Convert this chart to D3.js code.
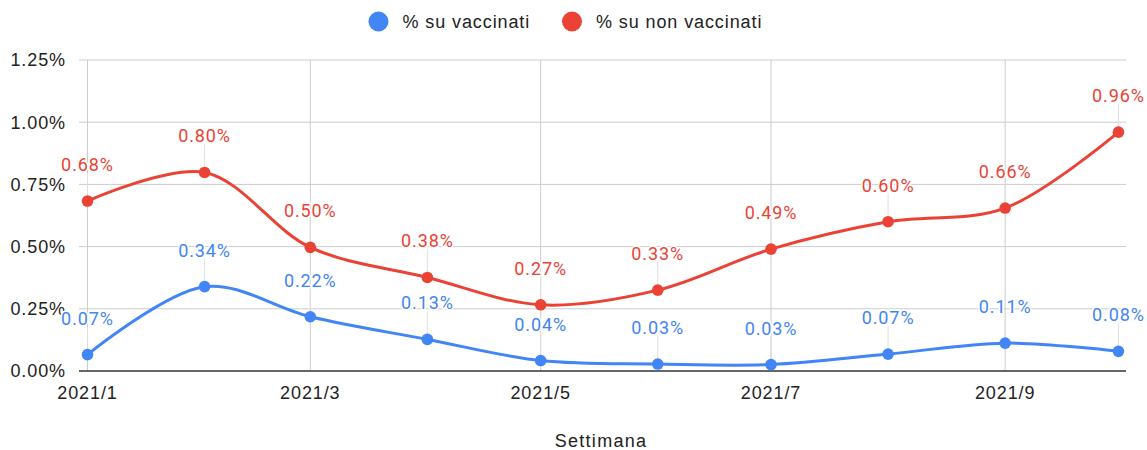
<!DOCTYPE html>
<html><head><meta charset="utf-8">
<script src="https://cdn.jsdelivr.net/npm/d3@7"></script>
<style>
html,body{margin:0;padding:0;background:#fff;}
svg{display:block;}
text{font-family:"Liberation Sans",Arial,sans-serif;}
</style></head>
<body><div id="chart"></div>
<script>
const categories = ["2021/1","2021/2","2021/3","2021/4","2021/5","2021/6","2021/7","2021/8","2021/9","2021/10"];
const vaccinati = [0.066, 0.339, 0.218, 0.127, 0.042, 0.028, 0.026, 0.068, 0.112, 0.079];
const nonVaccinati = [0.683, 0.798, 0.497, 0.376, 0.266, 0.325, 0.49, 0.6, 0.655, 0.96];
const yTicks = [0, 0.25, 0.5, 0.75, 1.0, 1.25];
const xTickLabels = ["2021/1","2021/3","2021/5","2021/7","2021/9"];
const seriesNames = ["% su vaccinati", "% su non vaccinati"];
const colors = ["#4285F4", "#EA4335"];
const xTitle = "Settimana";

const W = 1147, H = 450;
const svg = d3.select("#chart").append("svg").attr("width", W).attr("height", H);

const parse = d3.utcParse("%Y/%m");
const fmtX = d3.utcFormat("%Y/%-m");
const dates = categories.map(parse);

const x = d3.scaleUtc()
  .domain([parse("2021/1"), d3.utcDay.offset(parse("2021/10"), 2)])
  .range([87.5, 1126]);
const y = d3.scaleLinear().domain([0, 1.25]).range([371, 60]);
const gridLeft = 79, gridRight = 1126;

// horizontal gridlines
svg.append("g").selectAll("line").data(yTicks.slice(1)).join("line")
  .attr("x1", gridLeft).attr("x2", gridRight)
  .attr("y1", d => y(d)).attr("y2", d => y(d))
  .attr("stroke", "#cccccc").attr("stroke-width", 1);

// vertical gridlines
const xTickDates = xTickLabels.map(parse);
svg.append("g").selectAll("line").data(xTickDates).join("line")
  .attr("x1", d => x(d)).attr("x2", d => x(d))
  .attr("y1", y(1.25)).attr("y2", y(0))
  .attr("stroke", "#cccccc").attr("stroke-width", 1);

// y labels
svg.append("g").selectAll("text").data(yTicks).join("text")
  .attr("x", 66).attr("y", d => y(d)).attr("dy", "0.35em")
  .attr("text-anchor", "end").attr("font-size", 18).attr("letter-spacing", 0.9)
  .attr("fill", "#222").text(d => d.toFixed(2) + "%");

// x labels
svg.append("g").selectAll("text").data(xTickDates).join("text")
  .attr("x", d => x(d)).attr("y", 399)
  .attr("text-anchor", "middle").attr("font-size", 18).attr("letter-spacing", 0.9)
  .attr("fill", "#222").text(d => fmtX(d));

// x title
svg.append("text").attr("x", 601).attr("y", 447).attr("text-anchor", "middle")
  .attr("font-size", 18).attr("letter-spacing", 1.3).attr("fill", "#222").text(xTitle);

// baseline
svg.append("line").attr("x1", gridLeft).attr("x2", gridRight)
  .attr("y1", y(0)).attr("y2", y(0)).attr("stroke", "#333").attr("stroke-width", 1.3);

const series = [vaccinati, nonVaccinati];
const line = d3.line().x((d, i) => x(dates[i])).y(d => y(d)).curve(d3.curveCatmullRom.alpha(0.5));

// stems
series.forEach((vals, s) => {
  svg.append("g").selectAll("line").data(vals).join("line")
    .attr("x1", (d, i) => x(dates[i])).attr("x2", (d, i) => x(dates[i]))
    .attr("y1", d => y(d) - 28).attr("y2", d => y(d))
    .attr("stroke", "#e0e0e0").attr("stroke-width", 1);
});

series.forEach((vals, s) => {
  svg.append("path").datum(vals).attr("d", line)
    .attr("fill", "none").attr("stroke", colors[s]).attr("stroke-width", 3);
  svg.append("g").selectAll("circle").data(vals).join("circle")
    .attr("cx", (d, i) => x(dates[i])).attr("cy", d => y(d)).attr("r", 5.8)
    .attr("fill", colors[s]);
});

// data labels
series.forEach((vals, s) => {
  svg.append("g").selectAll("text").data(vals).join("text")
    .attr("x", (d, i) => x(dates[i])).attr("y", d => y(d) - 30)
    .attr("text-anchor", "middle").attr("font-size", 18).attr("letter-spacing", 0.9)
    .style("font-family", "Roboto, sans-serif")
    .attr("fill", colors[s]).attr("stroke", "#fff").attr("stroke-width", 3)
    .attr("paint-order", "stroke").attr("stroke-linejoin", "round")
    .text(d => d.toFixed(2) + "%");
});

// legend
const legendX = [378.5, 572];
seriesNames.forEach((name, s) => {
  svg.append("circle").attr("cx", legendX[s]).attr("cy", 21.5).attr("r", 10).attr("fill", colors[s]);
  svg.append("text").attr("x", legendX[s] + 24).attr("y", 27.5)
    .attr("font-size", 18).attr("letter-spacing", 0.9).attr("fill", "#222").text(name);
});
</script></body></html>
